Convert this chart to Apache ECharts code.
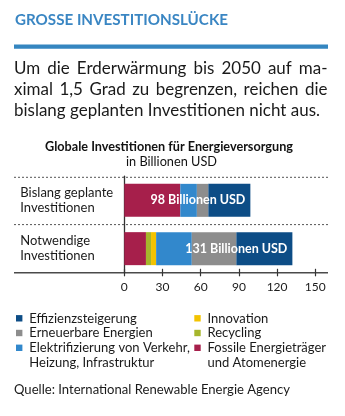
<!DOCTYPE html>
<html><head><meta charset="utf-8">
<script src="https://cdn.jsdelivr.net/npm/echarts@6/dist/echarts.min.js"></script>
<style>html,body{margin:0;padding:0;background:#fff}#c{width:345px;height:416px}</style>
</head><body><div id="c"></div>
<script>
// ---- data ----
const headline = 'GROSSE INVESTITIONSLÜCKE';
const bodyLines = ['Um die Erderwärmung bis 2050 auf ma-', 'ximal 1,5 Grad zu begrenzen, reichen die', 'bislang geplanten Investitionen nicht aus.'];
const chartTitle = 'Globale Investitionen für Energieversorgung';
const chartSubtitle = 'in Billionen USD';
const categories = ['Bislang geplante\nInvestitionen', 'Notwendige\nInvestitionen'];
const totals = [98, 131];
const fossil = [44, 17];
const recycling = [0, 4];
const innovation = [0, 4];
const electrification = [13, 28];
const renewables = [9, 35];
const efficiency = [33, 44];
const xTicks = [0, 30, 60, 90, 120, 150];
const seriesNames = ['Fossile Energieträger und Atomenergie', 'Recycling', 'Innovation', 'Elektrifizierung von Verkehr, Heizung, Infrastruktur', 'Erneuerbare Energien', 'Effizienzsteigerung'];
const legendLeft = ['Effizienzsteigerung', 'Erneuerbare Energien', 'Elektrifizierung von Verkehr,\nHeizung, Infrastruktur'];
const legendRight = ['Innovation', 'Recycling', 'Fossile Energieträger\nund Atomenergie'];
const source = 'Quelle: International Renewable Energie Agency';

// ---- styles ----
const FONT = 'Lato';
const colors = {
  fossil: '#a61f4b', recycling: '#a6b62c', innovation: '#f3c300',
  electrification: '#3288cc', renewables: '#8d8d8d', efficiency: '#0d4d86'
};
const legendLeftColors = [colors.efficiency, colors.renewables, colors.electrification];
const legendRightColors = [colors.innovation, colors.recycling, colors.fossil];

const ctx = document.createElement('canvas').getContext('2d');
function tw(text, size, weight) { ctx.font = (weight || 'normal') + ' ' + size + 'px ' + FONT; return ctx.measureText(text).width; }

const graphics = [];
// headline
(function () {
  const size = 15.3, wt = 'bold';
  const s = 213 / tw(headline, size, wt);
  graphics.push({ type: 'text', x: 15, y: 20, scaleX: s, style: { text: headline, font: wt + ' ' + size + 'px ' + FONT, fill: '#3a86c3', align: 'left', verticalAlign: 'middle' } });
})();
graphics.push({ type: 'rect', shape: { x: 14, y: 44.6, width: 314, height: 4.2 }, style: { fill: '#3586c0' } });
// body (justified)
(function () {
  const size = 17.5;
  const s = 306 / tw(bodyLines[2], size);
  const ys = [68.5, 89.5, 110.5];
  const left = 14, right = 327.5;
  bodyLines.forEach((line, i) => {
    if (i === bodyLines.length - 1) {
      graphics.push({ type: 'text', x: left, y: ys[i], scaleX: s, style: { text: line, font: size + 'px ' + FONT, fill: '#1a1a1a', align: 'left', verticalAlign: 'middle' } });
      return;
    }
    const words = line.split(' ');
    const ws = words.map(wd => tw(wd, size) * s);
    const sum = ws.reduce((a, b) => a + b, 0);
    const gap = (right - left - sum) / (words.length - 1);
    let x = left;
    words.forEach((wd, j) => {
      graphics.push({ type: 'text', x: x, y: ys[i], scaleX: s, style: { text: wd, font: size + 'px ' + FONT, fill: '#1a1a1a', align: 'left', verticalAlign: 'middle' } });
      x += ws[j] + gap;
    });
  });
})();
// chart titles
(function () {
  const s1 = 248 / tw(chartTitle, 12.8, 'bold');
  graphics.push({ type: 'text', x: 169, y: 147, scaleX: s1, style: { text: chartTitle, font: 'bold 12.8px ' + FONT, fill: '#111', align: 'center', verticalAlign: 'middle' } });
  const s2 = 91 / tw(chartSubtitle, 12.8);
  graphics.push({ type: 'text', x: 171.5, y: 162, scaleX: s2, style: { text: chartSubtitle, font: '12.8px ' + FONT, fill: '#111', align: 'center', verticalAlign: 'middle' } });
})();
// separators and baseline
[177.3, 224.6].forEach(y => graphics.push({ type: 'line', shape: { x1: 14, y1: y, x2: 328, y2: y }, style: { stroke: '#555', lineWidth: 1, lineDash: [2, 2] } }));
graphics.push({ type: 'line', shape: { x1: 14, y1: 272.8, x2: 328, y2: 272.8 }, style: { stroke: '#4a4a4a', lineWidth: 1.4 } });
// legend
function legendCol(items, cols, sx, tx) {
  const rows = [318.3, 333, 347.8];
  items.forEach((t, i) => {
    graphics.push({ type: 'rect', shape: { x: sx, y: rows[i] - 3.2, width: 6.4, height: 6.4 }, style: { fill: cols[i] } });
    graphics.push({ type: 'text', x: tx, y: rows[i] - 7.3, style: { text: t, font: '13px ' + FONT, fill: '#1a1a1a', align: 'left', verticalAlign: 'top', lineHeight: 14.7 } });
  });
}
legendCol(legendLeft, legendLeftColors, 16, 29.3);
legendCol(legendRight, legendRightColors, 194.3, 207.5);
(function () {
  const s = 276 / tw(source, 13);
  graphics.push({ type: 'text', x: 14, y: 389.5, scaleX: s, style: { text: source, font: '13px ' + FONT, fill: '#1a1a1a', align: 'left', verticalAlign: 'middle' } });
})();

const seriesData = [fossil, recycling, innovation, electrification, renewables, efficiency];
const seriesColors = [colors.fossil, colors.recycling, colors.innovation, colors.electrification, colors.renewables, colors.efficiency];

const chart = echarts.init(document.getElementById('c'), null, { renderer: 'canvas' });
chart.setOption({
  animation: false,
  grid: { left: 124.3, right: 29.7, top: 176.2, bottom: 416 - 272.8 },
  xAxis: [
    { type: 'value', min: xTicks[0], max: xTicks[xTicks.length - 1], interval: xTicks[1] - xTicks[0],
      axisLine: { show: false }, splitLine: { show: false },
      axisTick: { show: true, length: 3.5, lineStyle: { color: '#333', width: 1.2 } },
      axisLabel: { fontFamily: FONT, fontSize: 12, color: '#1a1a1a', margin: 8 } },
    { type: 'value', position: 'bottom', min: xTicks[0], max: xTicks[xTicks.length - 1], interval: xTicks[1] - xTicks[0],
      axisLine: { show: false }, splitLine: { show: false }, axisLabel: { show: false },
      axisTick: { show: true, inside: true, length: 4, lineStyle: { color: '#333', width: 1.2 } } }
  ],
  yAxis: {
    type: 'category', data: categories, inverse: true,
    axisLine: { show: true, lineStyle: { color: '#333', width: 1.3 } },
    axisTick: { show: false },
    axisLabel: { align: 'left', margin: 104, fontFamily: FONT, fontSize: 13, lineHeight: 14.8, color: '#1a1a1a' }
  },
  series: seriesNames.map((name, i) => ({
    name: name, type: 'bar', stack: 'total', barWidth: 33, xAxisIndex: 0,
    data: seriesData[i], itemStyle: { color: seriesColors[i] },
    label: i === seriesNames.length - 1 ? {
      show: true, position: 'insideRight', distance: 5,
      formatter: p => totals[p.dataIndex] + ' Billionen USD',
      color: '#fff', fontFamily: FONT, fontWeight: 'bold', fontSize: 12.5
    } : { show: false }
  })),
  graphic: graphics
});
</script>
</body></html>
